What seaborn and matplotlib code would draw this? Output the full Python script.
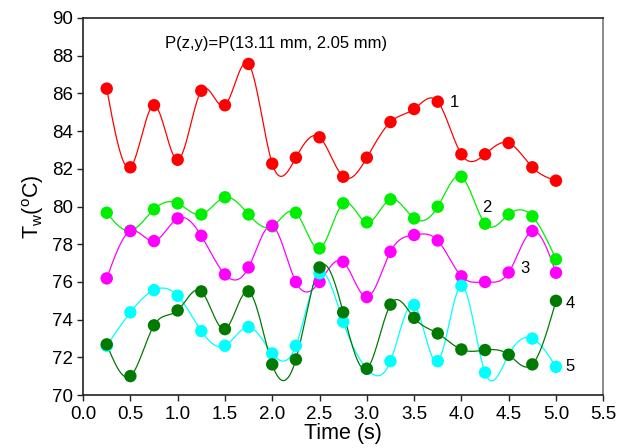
import numpy as np
import pandas as pd
import seaborn as sns
import matplotlib
matplotlib.use("Agg")
import matplotlib.pyplot as plt

# Sampling times (s)
time_s = [0.25, 0.5, 0.75, 1.0, 1.25, 1.5, 1.75, 2.0, 2.25, 2.5,
          2.75, 3.0, 3.25, 3.5, 3.75, 4.0, 4.25, 4.5, 4.75, 5.0]

# Wall temperature (°C) at the five monitoring curves
tw_1 = [86.25, 82.08, 85.37, 82.48, 86.14, 85.37, 87.56, 82.27, 82.59, 83.67,
        81.58, 82.59, 84.48, 85.17, 85.56, 82.77, 82.77, 83.37, 82.08, 81.37]
tw_2 = [79.67, 78.72, 79.85, 80.17, 79.58, 80.49, 79.58, 78.95, 79.67, 77.78,
        80.17, 79.16, 80.38, 79.37, 79.99, 81.58, 79.09, 79.58, 79.48, 77.20]
tw_3 = [76.19, 78.70, 78.17, 79.37, 78.45, 76.40, 76.77, 78.98, 76.00, 76.00,
        77.07, 75.20, 77.60, 78.49, 78.20, 76.30, 76.00, 76.50, 78.70, 76.49]
tw_4 = [72.69, 71.01, 73.70, 74.49, 75.50, 73.50, 75.50, 71.63, 71.89, 76.77,
        74.39, 71.40, 74.80, 74.10, 73.27, 72.42, 72.39, 72.14, 71.63, 75.00]
tw_5 = [72.62, 74.39, 75.57, 75.27, 73.40, 72.62, 73.61, 72.21, 72.62, 76.46,
        73.89, 71.40, 71.80, 74.78, 71.80, 75.80, 71.20, 72.14, 73.00, 71.50]

series_names = ["1", "2", "3", "4", "5"]
series_values = [tw_1, tw_2, tw_3, tw_4, tw_5]
series_colors = ["#ff0000", "#00ee00", "#ff00ff", "#007a00", "#00ffff"]
label_pos = [(3.88, 85.5), (4.22, 79.95), (4.62, 76.7), (5.10, 74.85), (5.10, 71.5)]

x_ticks = [0.0, 0.5, 1.0, 1.5, 2.0, 2.5, 3.0, 3.5, 4.0, 4.5, 5.0, 5.5]
y_ticks = [70, 72, 74, 76, 78, 80, 82, 84, 86, 88, 90]


def natural_spline(x, y, n=600):
    """Natural cubic spline through (x, y), evaluated on a fine grid."""
    x = np.asarray(x, float)
    y = np.asarray(y, float)
    m = len(x)
    h = np.diff(x)
    A = np.zeros((m, m))
    r = np.zeros(m)
    A[0, 0] = A[-1, -1] = 1.0
    for i in range(1, m - 1):
        A[i, i - 1] = h[i - 1]
        A[i, i] = 2 * (h[i - 1] + h[i])
        A[i, i + 1] = h[i]
        r[i] = 3 * ((y[i + 1] - y[i]) / h[i] - (y[i] - y[i - 1]) / h[i - 1])
    c = np.linalg.solve(A, r)
    b = (y[1:] - y[:-1]) / h - h * (2 * c[:-1] + c[1:]) / 3
    d = (c[1:] - c[:-1]) / (3 * h)
    xs = np.linspace(x[0], x[-1], n)
    idx = np.clip(np.searchsorted(x, xs) - 1, 0, m - 2)
    dx = xs - x[idx]
    ys = y[idx] + b[idx] * dx + c[idx] * dx ** 2 + d[idx] * dx ** 3
    return xs, ys


sns.set_theme(style="ticks")
plt.rcParams["font.family"] = ["Liberation Sans", "DejaVu Sans"]
plt.rcParams["text.color"] = "black"
plt.rcParams["xtick.color"] = "black"
plt.rcParams["ytick.color"] = "black"
plt.rcParams["axes.labelcolor"] = "black"

fig = plt.figure(figsize=(6.2, 4.48), dpi=100)
ax = fig.add_axes([0.134, 0.118, 0.839, 0.842])

# Draw order: curve 5 first so that the dark green curve 4 sits on top
order = [0, 1, 2, 4, 3]
for i in order:
    xs, ys = natural_spline(time_s, series_values[i])
    sns.lineplot(x=xs, y=ys, ax=ax, color=series_colors[i], linewidth=0.9, sort=False)
    sns.scatterplot(x=time_s, y=series_values[i], color=series_colors[i],
                    s=80, edgecolor="none", legend=False, ax=ax, zorder=3)

for name, (lx, ly) in zip(series_names, label_pos):
    ax.text(lx, ly, name, fontsize=12, va="center", ha="left")

ax.text(0.87, 88.62, "P(z,y)=P(13.11 mm, 2.05 mm)", fontsize=12, va="center", ha="left")

ax.set_xlim(0, 5.5)
ax.set_ylim(70, 90)
ax.set_xticks(x_ticks)
ax.set_xticklabels([f"{v:.1f}" for v in x_ticks])
ax.set_yticks(y_ticks)
ax.set_yticklabels([str(v) for v in y_ticks])
ax.tick_params(axis="both", labelsize=13.5, direction="out", length=4, width=1, color="#222222")
ax.set_xlabel("Time (s)", fontsize=15.5, labelpad=0)
ax.set_ylabel("T$_\\mathregular{w}$($^\\mathregular{o}$C)", fontsize=15.5, labelpad=4)

for side in ["left", "bottom", "top", "right"]:
    ax.spines[side].set_visible(True)
    ax.spines[side].set_linewidth(1.2)
    ax.spines[side].set_color("#222222")
ax.spines["right"].set_color("#777777")

fig.savefig("out.png", dpi=100)
